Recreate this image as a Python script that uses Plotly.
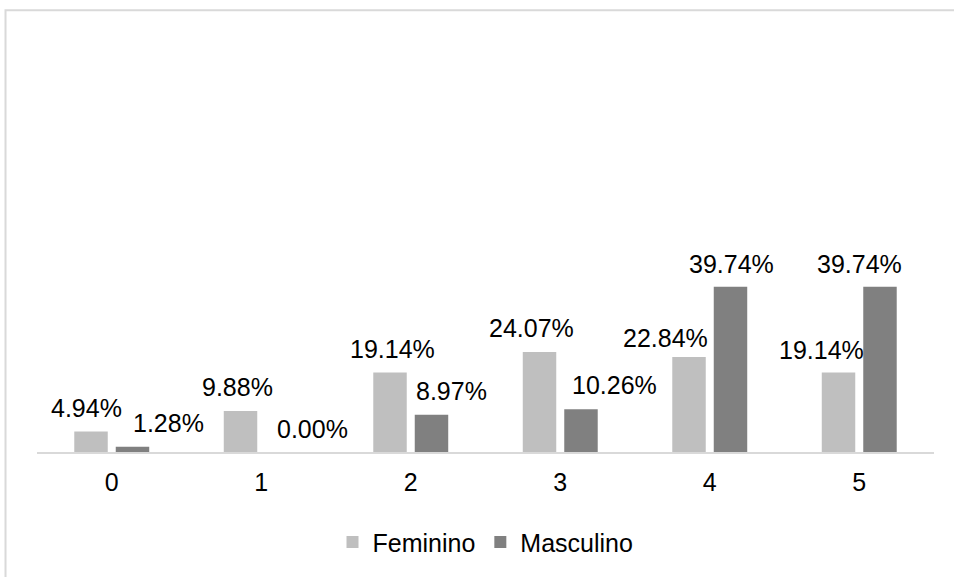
import plotly.graph_objects as go

categories = ["0", "1", "2", "3", "4", "5"]
feminino = [4.94, 9.88, 19.14, 24.07, 22.84, 19.14]
masculino = [1.28, 0.00, 8.97, 10.26, 39.74, 39.74]
series_names = ["Feminino", "Masculino"]

# label placement tweaks (pixels, relative to category centre / bar top)
fem_dx = [-25, -24, -18, -29, -44, -38]
masc_dx = [57, 51, 41, 54, 22, 0]
fem_gap = [15, 16, 15, 16, 11, 14]
masc_gap = [16, 15, 16, 16, 15, 15]

FONT = "Arial, Liberation Sans, sans-serif"
FS = 25

fig = go.Figure()
fig.add_bar(x=categories, y=feminino, name=series_names[0], marker_color="#BFBFBF",
            marker_line_width=0, hoverinfo="skip")
fig.add_bar(x=categories, y=masculino, name=series_names[1], marker_color="#808080",
            marker_line_width=0, hoverinfo="skip")

annotations = []
for vals, dxs, gaps in ((feminino, fem_dx, fem_gap), (masculino, masc_dx, masc_gap)):
    for c, v, dx, g in zip(categories, vals, dxs, gaps):
        annotations.append(dict(
            x=c, y=v, xref="x", yref="y", text=f"{v:.2f}%", showarrow=False,
            xanchor="center", yanchor="bottom", xshift=dx, yshift=g - 8,
            font=dict(family=FONT, size=FS, color="#000000"),
        ))

fig.update_layout(
    width=954, height=577,
    margin=dict(l=37, r=20, t=32, b=121),
    paper_bgcolor="white", plot_bgcolor="white",
    barmode="group", bargap=0.445, bargroupgap=0.193,
    font=dict(family=FONT, size=FS, color="#000000"),
    showlegend=True,
    legend=dict(orientation="h", x=0.5, xanchor="center", y=-0.215, yanchor="middle",
                font=dict(family=FONT, size=FS, color="#000000"),
                itemwidth=30, traceorder="normal"),
    annotations=annotations,
    shapes=[dict(type="rect", xref="paper", yref="paper",
                 x0=-0.0351, x1=1.2, y0=-0.6, y1=1.052,
                 line=dict(color="#D9D9D9", width=2), layer="below")],
)
fig.update_xaxes(showline=True, linecolor="#D9D9D9", linewidth=2, ticks="",
                 showgrid=False, zeroline=False, ticklabelstandoff=7,
                 tickfont=dict(family=FONT, size=FS, color="#000000"))
fig.update_yaxes(range=[0, 101], visible=False, showgrid=False, zeroline=False)

fig.write_html("out.html", config={"displayModeBar": False},
               post_script="document.body.style.margin='0';document.body.style.overflow='hidden';")
